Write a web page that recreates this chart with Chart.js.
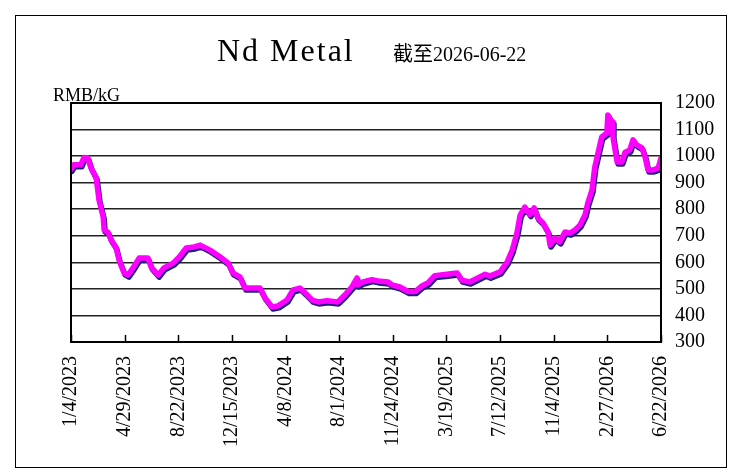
<!DOCTYPE html>
<html>
<head>
<meta charset="utf-8">
<script src="https://cdn.jsdelivr.net/npm/chart.js@4"></script>
<style>
  body { margin: 0; background: #fff; }
</style>
</head>
<body>
<canvas id="ndChart" width="735" height="473"></canvas>
<script>
// days since 1/4/2023 and price (RMB/kG)
const days = [
  0, 6, 21, 28, 36, 43, 54, 60, 69, 71, 79, 86, 96, 103, 114, 122, 133, 146,
  165, 172, 187, 199, 219, 232, 247, 264, 277, 298, 320, 337, 347, 362, 373,
  405, 416, 431, 444, 463, 476, 491, 502, 517, 530, 549, 572, 587, 602, 613,
  615, 626, 645, 658, 680, 688, 705, 723, 738, 753, 765, 780, 806, 828, 838,
  855, 888, 898, 920, 935, 946, 956, 963, 973, 984, 993, 1001, 1012, 1023,
  1027, 1038, 1048, 1059, 1070, 1081, 1091, 1102, 1108, 1117, 1123, 1130,
  1138, 1149, 1151, 1160, 1162, 1171, 1181, 1188, 1198, 1205, 1213, 1224,
  1231, 1237, 1248, 1259, 1265,
];
const prices = [
  950, 967, 967, 995, 993, 955, 918, 835, 771, 722, 714, 684, 658, 609, 560,
  552, 579, 616, 616, 582, 552, 579, 597, 620, 654, 658, 665, 646, 620, 597,
  560, 545, 503, 503, 466, 432, 436, 458, 496, 503, 485, 458, 451, 455, 451,
  477, 507, 541, 515, 526, 535, 530, 526, 515, 507, 490, 490, 512, 522, 550,
  555, 560, 533, 526, 555, 548, 564, 601, 646, 710, 778, 808, 780, 805, 767,
  748, 714, 665, 692, 677, 714, 710, 722, 740, 778, 823, 872, 959, 1012,
  1072, 1087, 1155, 1128, 1072, 978, 978, 1015, 1023, 1061, 1042, 1031, 997,
  948, 948, 955, 993,
];

const startDate = Date.UTC(2023, 0, 4);
const tickStep = 115;
const yTicks = [300, 1200, 100];

const fmtDay = (v) => {
  const d = new Date(startDate + v * 86400000);
  return d.getUTCMonth() + 1 + '/' + d.getUTCDate() + '/' + d.getUTCFullYear();
};

// frame, titles, plot box, inner x ticks, line shadow
const decor = {
  id: 'decor',
  beforeDatasetsDraw(chart) {
    const ctx = chart.ctx;
    ctx.save();
    ctx.shadowColor = '#1c1c86';
    ctx.shadowOffsetX = 1;
    ctx.shadowOffsetY = 2;
    ctx.shadowBlur = 0;
  },
  afterDatasetsDraw(chart) {
    chart.ctx.restore();
  },
  afterDraw(chart) {
    const ctx = chart.ctx;
    const a = chart.chartArea;
    const xs = chart.scales.x;
    ctx.save();
    ctx.strokeStyle = '#000';
    ctx.lineWidth = 1;
    ctx.strokeRect(15.5, 15.5, 711, 452);

    ctx.lineWidth = 2;
    ctx.strokeRect(a.left, a.top, a.right - a.left, a.bottom - a.top);

    ctx.lineWidth = 1.5;
    xs.ticks.forEach((t) => {
      const px = Math.round(xs.getPixelForValue(t.value)) + 0.5;
      ctx.beginPath();
      ctx.moveTo(px, a.bottom);
      ctx.lineTo(px, a.bottom - 7);
      ctx.stroke();
    });

    ctx.fillStyle = '#000';
    ctx.textBaseline = 'alphabetic';
    ctx.textAlign = 'left';
    ctx.font = '32px "Liberation Serif"';
    ctx.letterSpacing = '2px';
    ctx.fillText('Nd Metal', 217, 61);
    ctx.letterSpacing = '0px';
    ctx.font = '20px "Liberation Serif", "Noto Sans CJK SC"';
    ctx.fillText('截至2026-06-22', 393, 61);
    ctx.font = '18px "Liberation Serif"';
    ctx.fillText('RMB/kG', 53, 101);
    ctx.restore();
  },
};

const ctx = document.getElementById('ndChart').getContext('2d');
new Chart(ctx, {
  type: 'line',
  data: {
    datasets: [
      {
        data: days.map((d, i) => ({ x: d, y: prices[i] })),
        borderColor: '#ff00ff',
        borderWidth: 5.5,
        pointRadius: 0,
        tension: 0,
        borderJoinStyle: 'round',
        borderCapStyle: 'round',
        fill: false,
      },
    ],
  },
  options: {
    responsive: false,
    animation: false,
    layout: {
      padding: { top: 103, left: 71, right: 0, bottom: 0 },
    },
    plugins: {
      legend: { display: false },
      tooltip: { enabled: false },
    },
    scales: {
      x: {
        type: 'linear',
        min: 0,
        max: 1265,
        grid: { display: false },
        border: { display: false },
        ticks: {
          stepSize: tickStep,
          autoSkip: false,
          maxRotation: 90,
          minRotation: 90,
          padding: 6,
          color: '#000',
          font: { family: 'Liberation Serif', size: 20 },
          callback: (v) => fmtDay(v),
        },
        afterFit: (s) => {
          s.height = 131;
        },
      },
      y: {
        position: 'right',
        min: yTicks[0],
        max: yTicks[1],
        grid: {
          color: '#222',
          lineWidth: 1.5,
          drawTicks: false,
        },
        border: { display: false },
        ticks: {
          stepSize: yTicks[2],
          autoSkip: false,
          padding: 14,
          color: '#000',
          font: { family: 'Liberation Serif', size: 20 },
          callback: (v) => String(v),
        },
        afterFit: (s) => {
          s.width = 74;
        },
      },
    },
  },
  plugins: [decor],
});
</script>
</body>
</html>
